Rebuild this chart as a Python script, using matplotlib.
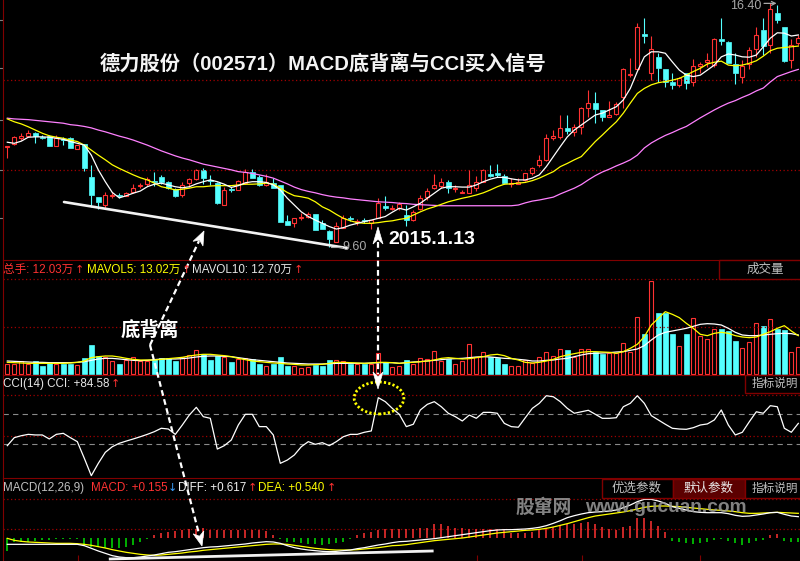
import numpy as np
import matplotlib
matplotlib.use('Agg')
import matplotlib.pyplot as plt
from matplotlib.lines import Line2D
from matplotlib.patches import Polygon, Rectangle, Ellipse

plt.rcParams['font.family'] = ['Liberation Sans', 'Noto Sans CJK SC', 'DejaVu Sans']

# 日K数据（德力股份 002571）
opens = [12.40, 12.47, 12.65, 12.70, 12.79, 12.67, 12.70, 12.41, 12.60, 12.63,
         12.32, 12.46, 11.56, 10.99, 10.77, 11.03, 11.06, 11.03, 11.12, 11.30,
         11.36, 11.44, 11.56, 11.42, 11.22, 11.05, 11.39, 11.50, 11.75, 11.48,
         11.38, 10.77, 11.23, 11.19, 11.38, 11.68, 11.56, 11.33, 11.38, 11.33,
         10.32, 10.26, 10.41, 10.44, 10.51, 10.26, 10.05, 9.75, 10.14, 10.42,
         10.31, 10.34, 10.26, 10.40, 10.75, 10.67, 10.68, 10.49, 10.35, 10.65,
         10.99, 11.24, 11.30, 11.42, 11.22, 11.11, 11.10, 11.25, 11.42, 11.63,
         11.65, 11.58, 11.35, 11.36, 11.47, 11.67, 11.89, 12.03, 12.65, 12.67,
         12.91, 12.81, 12.95, 13.47, 13.61, 13.42, 13.23, 13.30, 13.77, 14.39,
         14.55, 15.53, 14.44, 14.89, 14.56, 14.21, 14.12, 14.46, 14.21, 14.65,
         14.76, 14.67, 15.40, 15.32, 14.70, 14.35, 14.70, 15.11, 15.65, 15.23,
         16.11, 15.72, 14.81, 15.28]
highs = [12.42, 12.69, 12.78, 12.86, 12.81, 12.72, 12.72, 12.72, 12.67, 12.67,
         12.44, 12.47, 11.89, 10.99, 11.14, 11.14, 11.10, 11.13, 11.35, 11.38,
         11.56, 11.70, 11.61, 11.44, 11.24, 11.40, 11.52, 11.77, 11.80, 11.61,
         11.41, 11.28, 11.28, 11.47, 11.77, 11.77, 11.61, 11.63, 11.52, 11.33,
         10.49, 10.41, 10.55, 10.57, 10.52, 10.35, 10.07, 10.31, 10.49, 10.46,
         10.38, 10.41, 10.35, 10.96, 11.03, 10.77, 10.86, 10.77, 10.63, 11.05,
         11.24, 11.64, 11.52, 11.47, 11.33, 11.19, 11.75, 11.58, 11.77, 11.89,
         11.91, 11.64, 11.52, 11.52, 11.66, 11.84, 12.16, 12.75, 12.86, 13.28,
         13.28, 13.03, 13.51, 13.98, 13.93, 13.42, 13.68, 13.65, 14.58, 14.88,
         15.84, 15.97, 15.48, 15.00, 14.56, 14.44, 14.35, 14.46, 14.83, 14.76,
         15.02, 15.42, 15.97, 15.35, 15.00, 14.81, 15.17, 15.72, 15.97, 16.40,
         16.35, 15.72, 15.39, 15.51]
lows = [12.09, 12.44, 12.58, 12.67, 12.51, 12.61, 12.41, 12.41, 12.44, 12.36,
        12.32, 11.72, 10.72, 10.66, 10.69, 10.97, 10.97, 11.02, 11.10, 11.24,
        11.31, 11.30, 11.36, 11.22, 11.00, 11.00, 11.28, 11.47, 11.36, 11.33,
        10.80, 10.77, 11.13, 11.19, 11.36, 11.52, 11.30, 11.30, 11.24, 10.30,
        10.21, 10.17, 10.35, 10.40, 10.07, 10.10, 9.60, 9.73, 10.12, 10.32,
        10.21, 10.26, 10.10, 10.40, 10.63, 10.63, 10.63, 10.19, 10.33, 10.63,
        10.91, 11.21, 11.25, 11.10, 11.14, 11.10, 11.10, 11.17, 11.42, 11.54,
        11.54, 11.36, 11.28, 11.36, 11.45, 11.61, 11.84, 12.01, 12.58, 12.60,
        12.75, 12.69, 12.75, 13.23, 13.05, 13.12, 13.22, 13.28, 13.47, 14.33,
        14.53, 15.28, 14.25, 14.21, 14.05, 14.00, 14.07, 14.00, 14.09, 14.46,
        14.63, 14.63, 15.23, 14.72, 14.13, 14.18, 14.55, 14.89, 14.95, 15.00,
        15.84, 14.76, 14.60, 15.23]
closes = [12.42, 12.66, 12.68, 12.78, 12.69, 12.65, 12.42, 12.64, 12.58, 12.37,
          12.44, 11.81, 11.05, 10.86, 11.05, 11.06, 11.03, 11.11, 11.24, 11.33,
          11.50, 11.41, 11.40, 11.24, 11.03, 11.33, 11.50, 11.75, 11.52, 11.45,
          10.82, 11.19, 11.20, 11.44, 11.68, 11.53, 11.33, 11.42, 11.24, 10.31,
          10.21, 10.40, 10.44, 10.51, 10.07, 10.10, 9.82, 10.19, 10.42, 10.38,
          10.33, 10.32, 10.35, 10.82, 10.68, 10.70, 10.79, 10.35, 10.58, 10.96,
          11.16, 11.33, 11.40, 11.24, 11.24, 11.13, 11.33, 11.42, 11.75, 11.59,
          11.61, 11.38, 11.38, 11.42, 11.65, 11.79, 12.03, 12.63, 12.69, 12.91,
          12.84, 12.95, 13.47, 13.61, 13.44, 13.22, 13.28, 13.59, 14.55, 14.42,
          15.72, 15.48, 15.11, 14.60, 14.21, 14.12, 14.30, 14.16, 14.65, 14.69,
          14.81, 15.39, 15.35, 14.74, 14.44, 14.65, 15.09, 15.51, 15.20, 16.22,
          15.93, 14.79, 15.23, 15.42]
ma5 = [12.52, 12.49, 12.55, 12.66, 12.67, 12.67, 12.66, 12.63, 12.60, 12.54,
       12.49, 12.44, 12.16, 11.75, 11.42, 11.12, 10.97, 11.03, 11.10, 11.16,
       11.28, 11.35, 11.38, 11.33, 11.28, 11.25, 11.28, 11.36, 11.42, 11.47,
       11.42, 11.35, 11.26, 11.31, 11.39, 11.42, 11.42, 11.40, 11.33, 11.19,
       10.96, 10.77, 10.58, 10.45, 10.35, 10.26, 10.17, 10.10, 10.14, 10.21,
       10.26, 10.31, 10.35, 10.40, 10.45, 10.57, 10.68, 10.63, 10.72, 10.82,
       10.96, 11.10, 11.24, 11.28, 11.28, 11.27, 11.27, 11.33, 11.42, 11.49,
       11.54, 11.54, 11.50, 11.47, 11.47, 11.52, 11.61, 11.84, 12.12, 12.40,
       12.67, 12.86, 13.00, 13.14, 13.28, 13.33, 13.42, 13.51, 13.70, 14.02,
       14.49, 14.90, 15.04, 15.04, 15.00, 14.76, 14.53, 14.39, 14.35, 14.39,
       14.53, 14.67, 14.90, 14.98, 14.95, 14.90, 14.89, 14.95, 15.18, 15.42,
       15.57, 15.56, 15.48, 15.51]
ma10 = [13.17, 13.09, 13.03, 12.95, 12.86, 12.77, 12.70, 12.66, 12.63, 12.58,
        12.54, 12.44, 12.30, 12.16, 12.03, 11.89, 11.79, 11.70, 11.61, 11.53,
        11.47, 11.38, 11.28, 11.24, 11.19, 11.21, 11.24, 11.28, 11.28, 11.30,
        11.31, 11.31, 11.31, 11.33, 11.35, 11.35, 11.36, 11.38, 11.35, 11.24,
        11.12, 11.03, 11.00, 10.96, 10.86, 10.72, 10.63, 10.51, 10.40, 10.33,
        10.28, 10.26, 10.26, 10.28, 10.31, 10.33, 10.37, 10.40, 10.49, 10.58,
        10.66, 10.72, 10.79, 10.86, 10.91, 10.96, 11.00, 11.05, 11.11, 11.19,
        11.28, 11.35, 11.36, 11.38, 11.40, 11.45, 11.52, 11.61, 11.70, 11.84,
        11.93, 12.03, 12.12, 12.33, 12.54, 12.72, 12.91, 13.09, 13.33, 13.61,
        13.88, 14.02, 14.12, 14.18, 14.21, 14.25, 14.30, 14.39, 14.49, 14.58,
        14.70, 14.75, 14.78, 14.67, 14.65, 14.67, 14.72, 14.79, 14.92, 15.07,
        15.14, 15.16, 15.18, 15.20]
ma_long = [13.19, 13.17, 13.16, 13.15, 13.13, 13.11, 13.09, 13.07, 13.05, 13.01,
           12.99, 12.96, 12.92, 12.86, 12.81, 12.75, 12.69, 12.64, 12.58, 12.51,
           12.44, 12.36, 12.28, 12.21, 12.14, 12.08, 12.03, 11.97, 11.91, 11.87,
           11.83, 11.79, 11.75, 11.70, 11.68, 11.65, 11.61, 11.57, 11.52, 11.44,
           11.36, 11.27, 11.20, 11.15, 11.11, 11.06, 11.02, 10.99, 10.97, 10.94,
           10.92, 10.90, 10.88, 10.86, 10.85, 10.84, 10.82, 10.81, 10.79, 10.78,
           10.77, 10.76, 10.75, 10.75, 10.75, 10.75, 10.75, 10.75, 10.75, 10.75,
           10.75, 10.75, 10.75, 10.77, 10.83, 10.88, 10.91, 10.95, 10.99, 11.08,
           11.16, 11.24, 11.34, 11.47, 11.59, 11.69, 11.77, 11.86, 11.94, 12.03,
           12.16, 12.36, 12.50, 12.61, 12.71, 12.79, 12.88, 12.96, 13.08, 13.20,
           13.31, 13.42, 13.52, 13.61, 13.68, 13.77, 13.85, 13.95, 14.03, 14.20,
           14.35, 14.42, 14.49, 14.55]

# 成交量（万手）
vol = [4.25, 4.25, 5.72, 4.25, 5.72, 3.52, 4.69, 4.25, 4.25, 4.40,
       3.96, 7.19, 12.76, 7.92, 7.63, 5.72, 4.25, 6.16, 7.63, 5.72,
       5.72, 6.60, 6.89, 6.89, 5.72, 7.48, 8.36, 10.56, 8.66, 6.16,
       7.92, 7.63, 5.13, 6.45, 6.89, 6.60, 4.25, 3.67, 4.25, 7.63,
       3.52, 3.52, 2.49, 3.23, 3.96, 3.52, 6.16, 6.16, 5.72, 4.25,
       4.25, 4.25, 4.25, 9.39, 5.43, 3.23, 3.52, 6.16, 4.40, 6.89,
       6.60, 10.12, 5.72, 6.60, 4.40, 5.87, 13.06, 7.63, 9.54, 7.63,
       6.89, 4.40, 3.67, 3.52, 6.01, 4.69, 7.63, 9.83, 7.92, 10.86,
       10.56, 7.63, 10.86, 10.86, 9.54, 8.80, 9.10, 9.10, 13.50, 9.54,
       24.94, 17.60, 40.93, 26.70, 26.99, 17.60, 12.32, 17.60, 24.50, 16.72,
       15.26, 19.80, 19.80, 19.07, 14.52, 11.30, 13.94, 22.30, 21.12, 24.21,
       19.80, 19.36, 9.54, 11.74]
mavol5 = [5.13, 4.99, 4.84, 4.69, 4.69, 4.69, 4.69, 4.69, 4.69, 4.84,
          5.13, 5.72, 7.19, 7.63, 7.92, 7.92, 7.48, 6.89, 6.45, 6.16,
          6.16, 6.16, 6.45, 6.75, 7.04, 7.33, 7.92, 8.36, 8.66, 8.66,
          8.36, 8.07, 7.63, 6.89, 6.31, 5.72, 5.43, 5.13, 4.84, 4.69,
          4.40, 4.25, 3.96, 3.96, 4.11, 4.25, 4.69, 5.13, 5.13, 4.99,
          4.84, 4.69, 4.84, 5.13, 5.13, 4.99, 4.69, 4.99, 5.13, 5.43,
          5.72, 6.16, 6.89, 7.19, 6.89, 6.60, 6.75, 7.19, 7.63, 8.36,
          8.66, 8.07, 6.89, 6.16, 5.13, 4.84, 5.13, 5.72, 6.45, 7.63,
          8.36, 8.95, 9.54, 9.83, 9.83, 9.68, 9.54, 9.10, 9.83, 11.30,
          13.06, 16.43, 21.56, 24.50, 27.43, 26.26, 24.79, 22.30, 20.10, 17.46,
          16.87, 17.90, 18.34, 17.90, 16.87, 16.28, 15.99, 16.28, 17.46, 18.63,
          20.10, 21.27, 18.92, 16.87]
mavol10 = [5.72, 5.57, 5.43, 5.28, 5.13, 5.13, 4.99, 4.99, 4.99, 4.99,
           5.13, 5.43, 6.01, 6.60, 6.89, 6.89, 6.60, 6.31, 6.01, 5.87,
           6.01, 6.31, 6.60, 6.60, 6.60, 6.75, 7.04, 7.48, 7.78, 7.92,
           7.92, 7.78, 7.63, 7.19, 6.75, 6.31, 6.01, 5.72, 5.43, 5.13,
           4.84, 4.69, 4.55, 4.40, 4.40, 4.40, 4.55, 4.69, 4.69, 4.69,
           4.69, 4.69, 4.84, 4.99, 4.99, 4.99, 4.69, 4.99, 5.28, 5.43,
           5.72, 6.01, 6.31, 6.60, 6.75, 6.89, 7.19, 7.48, 7.63, 7.48,
           7.19, 6.89, 6.75, 6.45, 6.16, 5.72, 5.72, 6.01, 6.16, 6.60,
           6.89, 7.63, 8.36, 8.95, 9.10, 9.24, 9.39, 9.68, 9.83, 10.42,
           11.00, 12.47, 14.96, 17.16, 18.34, 18.92, 19.51, 20.10, 20.98, 21.86,
           22.15, 22.00, 21.56, 20.10, 18.34, 17.16, 16.87, 16.87, 17.16, 17.46,
           17.75, 17.90, 17.75, 17.16]

# CCI(14)
cci = [-111, -57, -44, -35, -39, -39, -66, -35, -28, -57,
       -84, -196, -313, -230, -156, -118, -95, -80, -66, -51,
       -35, -17, 6, 1, -35, 28, 95, 147, 84, 73,
       -134, -111, -73, 28, 100, 100, 17, 17, -39, -230,
       -208, -174, -118, -84, -102, -91, -111, -84, -51, -35,
       -35, -21, -12, 212, 185, 140, 100, 17, 33, 129,
       167, 185, 151, 107, 84, 55, 95, 73, 113, 113,
       107, 39, 17, 13, 77, 140, 174, 225, 218, 185,
       140, 107, 117, 127, 100, 73, 73, 77, 151, 174,
       225, 174, 91, 62, 33, 6, 1, -1, 10, 28,
       35, 62, 129, 28, -39, -21, 50, 117, 107, 158,
       151, 6, -21, 39]

# MACD(12,26,9)
diff = [-0.14, -0.14, -0.14, -0.14, -0.14, -0.14, -0.14, -0.14, -0.14, -0.14,
        -0.14, -0.168, -0.224, -0.28, -0.329, -0.378, -0.406, -0.42, -0.42, -0.406,
        -0.385, -0.364, -0.336, -0.308, -0.294, -0.273, -0.252, -0.231, -0.21, -0.196,
        -0.189, -0.175, -0.161, -0.147, -0.133, -0.112, -0.098, -0.084, -0.091, -0.119,
        -0.168, -0.21, -0.238, -0.259, -0.273, -0.287, -0.294, -0.287, -0.273, -0.259,
        -0.231, -0.21, -0.182, -0.154, -0.133, -0.105, -0.084, -0.077, -0.063, -0.049,
        -0.035, -0.021, 0.0, 0.021, 0.042, 0.063, 0.084, 0.105, 0.126, 0.147,
        0.161, 0.168, 0.168, 0.175, 0.182, 0.196, 0.217, 0.252, 0.301, 0.357,
        0.42, 0.462, 0.497, 0.525, 0.539, 0.546, 0.56, 0.581, 0.63, 0.686,
        0.756, 0.805, 0.805, 0.77, 0.721, 0.651, 0.616, 0.581, 0.546, 0.532,
        0.525, 0.525, 0.525, 0.504, 0.469, 0.448, 0.455, 0.476, 0.497, 0.525,
        0.532, 0.49, 0.455, 0.441]
dea = [-0.014, -0.056, -0.077, -0.091, -0.098, -0.105, -0.112, -0.119, -0.119, -0.119,
       -0.126, -0.14, -0.161, -0.189, -0.217, -0.252, -0.28, -0.308, -0.329, -0.35,
       -0.364, -0.371, -0.364, -0.35, -0.336, -0.322, -0.301, -0.287, -0.266, -0.252,
       -0.238, -0.224, -0.21, -0.196, -0.182, -0.168, -0.154, -0.14, -0.133, -0.133,
       -0.14, -0.161, -0.182, -0.203, -0.224, -0.238, -0.252, -0.259, -0.259, -0.259,
       -0.252, -0.238, -0.224, -0.21, -0.189, -0.168, -0.161, -0.147, -0.126, -0.105,
       -0.084, -0.063, -0.049, -0.035, -0.021, -0.007, 0.014, 0.035, 0.056, 0.077,
       0.098, 0.112, 0.126, 0.14, 0.154, 0.161, 0.175, 0.196, 0.224, 0.259,
       0.294, 0.336, 0.378, 0.42, 0.455, 0.476, 0.497, 0.518, 0.539, 0.567,
       0.602, 0.637, 0.658, 0.665, 0.665, 0.658, 0.651, 0.637, 0.623, 0.609,
       0.595, 0.581, 0.574, 0.56, 0.546, 0.525, 0.511, 0.511, 0.518, 0.525,
       0.532, 0.525, 0.518, 0.511]
macd = [-0.28, -0.084, -0.084, -0.084, -0.063, -0.049, -0.049, -0.035, -0.028, -0.028,
        -0.035, -0.154, -0.189, -0.189, -0.224, -0.224, -0.21, -0.189, -0.154, -0.084,
        -0.035, 0.056, 0.091, 0.126, 0.14, 0.161, 0.175, 0.175, 0.196, 0.161,
        0.161, 0.161, 0.161, 0.161, 0.161, 0.161, 0.161, 0.14, 0.056, -0.021,
        -0.084, -0.084, -0.119, -0.14, -0.14, -0.154, -0.14, -0.119, -0.084, -0.035,
        0.056, 0.091, 0.126, 0.161, 0.175, 0.182, 0.182, 0.182, 0.182, 0.196,
        0.21, 0.28, 0.28, 0.252, 0.196, 0.196, 0.182, 0.182, 0.182, 0.182,
        0.182, 0.161, 0.091, 0.091, 0.091, 0.112, 0.161, 0.196, 0.231, 0.266,
        0.28, 0.28, 0.301, 0.322, 0.28, 0.231, 0.182, 0.161, 0.231, 0.252,
        0.406, 0.42, 0.35, 0.252, 0.112, -0.063, -0.084, -0.119, -0.14, -0.119,
        -0.084, -0.049, -0.028, -0.063, -0.119, -0.154, -0.119, -0.063, -0.049, 0.056,
        0.07, -0.063, -0.084, -0.084]

RED = '#ff3232'
CYAN = '#54ffff'
YEL = '#ffff00'
PINK = '#ff80ff'
GREEN = '#00e000'
DARK = '#800000'
GRID = '#a00000'

W, H = 800, 561
fig = plt.figure(figsize=(8, 5.61), dpi=100, facecolor='black')


def fx(x):
    return x / W


def fy(y):
    return 1 - y / H


def panel(top, bottom):
    ax = fig.add_axes([fx(3), fy(bottom), (W - 3) / W, (bottom - top) / H], facecolor='black')
    for s in ax.spines.values():
        s.set_visible(False)
    ax.spines['left'].set_visible(True)
    ax.spines['left'].set_color(DARK)
    ax.spines['top'].set_color(DARK)
    ax.set_xticks([])
    ax.set_yticks([])
    ax.set_xlim(-0.614, 113.24)
    return ax


ax_k = panel(0, 260)
ax_v = panel(260, 375)
ax_c = panel(375, 478)
ax_m = panel(478, 561)
for ax in (ax_v, ax_c, ax_m):
    ax.spines['top'].set_visible(True)
ax_m.spines['bottom'].set_visible(True)
ax_m.spines['bottom'].set_color(DARK)

ax_k.set_ylim(9.238, 16.484)
ax_v.set_ylim(-0.44, 50.16)
ax_c.set_ylim(-328.7, 364.5)
ax_m.set_ylim(-0.49, 1.253)

# 左侧刻度
ax_k.set_yticks([15.93, 14.59, 13.14, 11.75, 10.41])
ax_k.tick_params(axis='y', direction='out', length=3, color='#808080', labelleft=False)

x = np.arange(len(closes))
o = np.array(opens)
c = np.array(closes)
hi = np.array(highs)
lo = np.array(lows)
up = c >= o
top = np.maximum(o, c)
bot = np.minimum(o, c)
cols = np.where(up, RED, CYAN)

# 网格虚线
dot = (0, (1, 2))
for v in (14.254, 11.746):
    ax_k.axhline(v, color=GRID, lw=0.9, ls=dot)
for v in (41.8, 20.7):
    ax_v.axhline(v, color=GRID, lw=0.9, ls=dot)
for v in (230, -46):
    ax_c.axhline(v, color=GRID, lw=0.9, ls=dot)
for v in (100, -100):
    ax_c.axhline(v, color='#8a8a8a', lw=0.8, ls=(0, (4.8, 3.8)))
for v in (0.812, 0.182):
    ax_m.axhline(v, color=GRID, lw=0.9, ls=dot)

# K线
ax_k.vlines(x, top, hi, colors=cols, lw=0.8)
ax_k.vlines(x, lo, bot, colors=cols, lw=0.8)
ax_k.bar(x[up], np.maximum(top - bot, 0.008)[up], bottom=bot[up], width=0.58,
         facecolor='black', edgecolor=RED, lw=0.8)
ax_k.bar(x[~up], np.maximum(top - bot, 0.008)[~up], bottom=bot[~up], width=0.66,
         facecolor=CYAN, edgecolor=CYAN, lw=0.5)
ax_k.plot(x, ma_long, color=PINK, lw=0.9)
ax_k.plot(x, ma10, color=YEL, lw=0.9)
ax_k.plot(x, ma5, color='white', lw=0.9)

# 底背离趋势线 + 最低/最高价标注
ax_k.plot([8.1, 48.5], [10.854, 9.572], color='#f2f2f2', lw=1.9, solid_capstyle='round')
ax_k.plot([46.2, 47.8], [9.60, 9.60], color='#a8a8a8', lw=0.8)
ax_k.text(47.9, 9.60, '9.60', color='#a8a8a8', fontsize=9, va='center', ha='left')
ax_k.text(107.8, 16.484, '16.40', color='#a8a8a8', fontsize=9, va='top', ha='right')
ax_k.annotate('', xy=(109.9, 16.39), xytext=(108.1, 16.39),
              arrowprops=dict(arrowstyle='->', color='#a8a8a8', lw=0.9,
                              shrinkA=0, shrinkB=0, mutation_scale=7))

# 成交量
v = np.array(vol)
ax_v.bar(x[up], v[up], width=0.58, facecolor='black', edgecolor=RED, lw=0.8)
ax_v.bar(x[~up], v[~up], width=0.66, facecolor=CYAN, edgecolor=CYAN, lw=0.5)
ax_v.plot(x, mavol10, color='white', lw=0.9)
ax_v.plot(x, mavol5, color=YEL, lw=0.9)

# CCI
ax_c.plot(x, cci, color='white', lw=0.9)
ax_c.add_patch(Ellipse((53.1, 209.7), width=7.1, height=215, fill=False,
                       edgecolor=YEL, lw=2.0, ls=(0, (0.8, 0.8)), clip_on=False, zorder=5))

# MACD
m = np.array(macd)
ax_m.vlines(x, 0, m, colors=np.where(m >= 0, RED, GREEN), lw=1.1)
ax_m.plot(x, dea, color=YEL, lw=0.9)
ax_m.plot(x, diff, color='white', lw=0.9)
ax_m.plot([14.7, 60.7], [-0.448, -0.28], color='#f2f2f2', lw=2.0, clip_on=False)
ax_m.set_xticks([10.1, 67.1, 82.1, 99.0])
ax_m.tick_params(axis='x', direction='in', length=4, color=DARK, labelbottom=False)


def ftext(px, py, s, **kw):
    kw.setdefault('va', 'center')
    kw.setdefault('ha', 'left')
    fig.text(fx(px), fy(py), s, **kw)


def arrow_sym(px, py, s, color):
    ftext(px, py, s, color=color, fontsize=8, ha='center', family=['DejaVu Sans'])


def box(x0, y0, x1, y1, fc='black'):
    fig.add_artist(Rectangle((fx(x0), fy(y1)), (x1 - x0) / W, (y1 - y0) / H,
                             transform=fig.transFigure, facecolor=fc, edgecolor=DARK, lw=1.0))


def dashed(x0, y0, x1, y1):
    fig.add_artist(Line2D([fx(x0), fx(x1)], [fy(y0), fy(y1)], transform=fig.transFigure,
                          color='white', lw=1.6, dashes=(2.6, 1.6)))


def head(tx, ty, fromx, fromy, length=15, width=11):
    u = np.array([tx - fromx, ty - fromy], float)
    u /= np.hypot(*u)
    n = np.array([-u[1], u[0]])
    tip = np.array([tx, ty], float)
    back = tip - u * length
    notch = tip - u * length * 0.72
    pts = [tip, back + n * width / 2, notch, back - n * width / 2]
    fig.add_artist(Polygon([(fx(p[0]), fy(p[1])) for p in pts], closed=True,
                           transform=fig.transFigure, facecolor='white', edgecolor='white', lw=0.5))


# 面板标题
fs = 8.4
ftext(3, 270, '总手: 12.03万', color=RED, fontsize=fs)
arrow_sym(79, 270, '↑', RED)
ftext(87, 270, 'MAVOL5: 13.02万', color=YEL, fontsize=fs)
arrow_sym(186, 270, '↑', RED)
ftext(192, 270, 'MAVOL10: 12.70万', color='#e6e6e6', fontsize=fs)
arrow_sym(298, 270, '↑', RED)

ftext(3, 384, 'CCI(14) CCI: +84.58', color='#e6e6e6', fontsize=fs)
arrow_sym(115, 384, '↑', RED)

ftext(3, 488, 'MACD(12,26,9)', color='#c0c0c0', fontsize=fs)
ftext(91, 488, 'MACD: +0.155', color=RED, fontsize=fs)
arrow_sym(172, 488, '↓', '#3aa0ff')
ftext(178, 488, 'DIFF: +0.617', color='#f0f0f0', fontsize=fs)
arrow_sym(252, 488, '↑', RED)
ftext(258, 488, 'DEA: +0.540', color=YEL, fontsize=fs)
arrow_sym(331, 488, '↑', RED)

box(719, 260, 806, 279)
ftext(765, 270, '成交量', color='#c0c0c0', fontsize=9, ha='center')
box(745, 375, 806, 393)
ftext(752, 384, '指标说明', color='#c0c0c0', fontsize=8.4)
box(602, 479, 673, 498)
box(673, 479, 745, 498, fc='#5c0000')
box(745, 479, 806, 498)
ftext(637, 489, '优选参数', color='#c0c0c0', fontsize=9, ha='center')
ftext(709, 489, '默认参数', color='#e8e8e8', fontsize=9, ha='center')
ftext(752, 489, '指标说明', color='#c0c0c0', fontsize=8.4)

# 水印
ftext(516, 507, '股窜网', color='#9a9a9a', fontsize=13.5, fontweight='bold', alpha=0.85,
      family=['Noto Sans CJK SC'])
ftext(585, 507, 'www.gucuan.com', color='#9a9a9a', fontsize=13.8, fontweight='bold', alpha=0.85)

# 标题与注释
ftext(100, 65, '德力股份（002571）MACD底背离与CCI买入信号', color='#f4f4f4',
      fontsize=14.6, fontweight='bold')
ftext(388, 239, '2015.1.13', color='white', fontsize=14, fontweight='bold')

dashed(150, 345, 199, 241)
head(204, 231, 150, 345, length=14, width=11)
dashed(150, 345, 199, 534)
head(202, 546, 150, 345, length=14, width=11)
dashed(378, 242, 378, 374)
head(378, 227, 378, 300, length=17, width=10)
head(378, 389, 378, 300, length=17, width=10)

ftext(121, 330, '底背离', color='white', fontsize=14, fontweight='bold',
      family=['Noto Sans CJK SC'])

fig.savefig('out.png', dpi=100, facecolor='black')
